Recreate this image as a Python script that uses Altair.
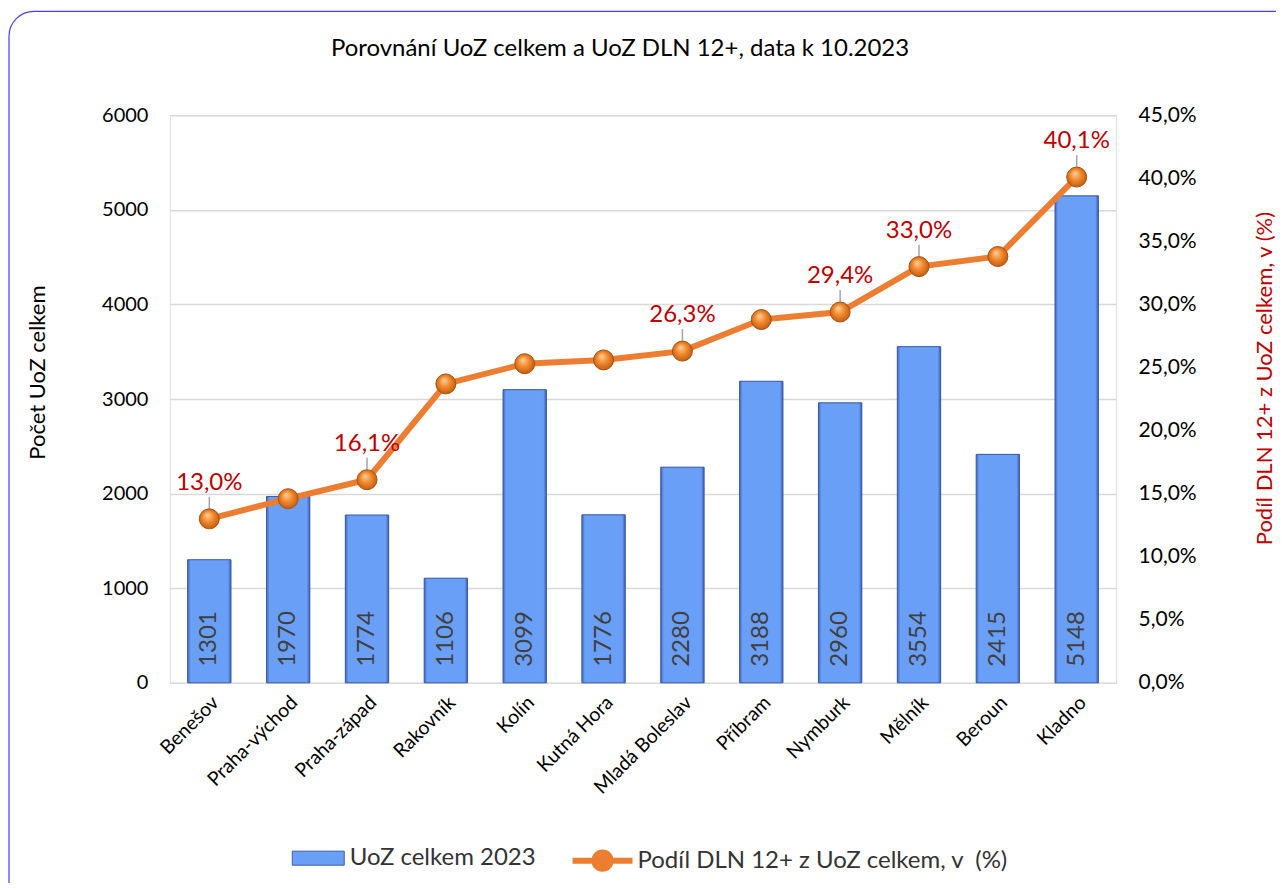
import altair as alt
import pandas as pd

districts = ["Benešov", "Praha-východ", "Praha-západ", "Rakovník", "Kolín", "Kutná Hora",
             "Mladá Boleslav", "Příbram", "Nymburk", "Mělník", "Beroun", "Kladno"]
uoz = [1301, 1970, 1774, 1106, 3099, 1776, 2280, 3188, 2960, 3554, 2415, 5148]
podil = [13.0, 14.6, 16.1, 23.7, 25.3, 25.6, 26.3, 28.8, 29.4, 33.0, 33.8, 40.1]
labeled = ["Benešov", "Praha-západ", "Mladá Boleslav", "Nymburk", "Mělník", "Kladno"]

s_bar = "UoZ celkem 2023"
s_line = "Podíl DLN 12+ z UoZ celkem, v\u00a0 (%)"

df = pd.DataFrame({
    "district": districts,
    "uoz": uoz,
    "pct": [p / 100 for p in podil],
    "pct_label": [f"{p:.1f}%".replace(".", ",") for p in podil],
    "show": [d in labeled for d in districts],
    "s_bar": s_bar,
    "s_line": s_line,
})

FONT = "Lato"

x_enc = alt.X("district:N", sort=districts, title=None,
              scale=alt.Scale(paddingInner=0.45, paddingOuter=0.225),
              axis=alt.Axis(labelAngle=-45, labelFontSize=19.5, labelFont=FONT, labelColor="black",
                            ticks=False, domain=False, labelPadding=10, grid=False))

left_axis = alt.Axis(orient="left", title="Počet UoZ celkem", values=[0, 1000, 2000, 3000, 4000, 5000, 6000],
                     format="d", labelFontSize=20, labelFont=FONT, labelColor="black", labelPadding=22,
                     ticks=False, domain=False, grid=True, gridColor="#D9D9D9", gridWidth=1.5,
                     titleFont=FONT, titleFontSize=22, titleFontWeight="normal", titleColor="black",
                     titleAngle=-90, titleX=-132, titleY=257, titleAlign="center", titleBaseline="middle")
left_scale = alt.Scale(domain=[0, 6000], nice=False)

right_axis = alt.Axis(orient="right", title="Podíl DLN 12+ z UoZ celkem, v (%)",
                      values=[0, 0.05, 0.1, 0.15, 0.2, 0.25, 0.3, 0.35, 0.4, 0.45],
                      labelExpr="replace(format(datum.value, '.1%'), '.', ',')",
                      labelFontSize=21, labelFont=FONT, labelColor="black", labelPadding=22,
                      ticks=False, domain=False, grid=False,
                      titleFont=FONT, titleFontSize=22, titleFontWeight="normal", titleColor="#C00000",
                      titleAngle=-90, titleX=148, titleY=263, titleAlign="center", titleBaseline="middle")
right_scale = alt.Scale(domain=[0, 0.45], nice=False)

base = alt.Chart(df)

bar_gradient = {
    "gradient": "linear", "x1": 0, "y1": 0, "x2": 1, "y2": 0,
    "stops": [
        {"offset": 0, "color": "#3F66C0"},
        {"offset": 0.07, "color": "#6A9FF7"},
        {"offset": 0.93, "color": "#6A9FF7"},
        {"offset": 1, "color": "#3A5CA8"},
    ],
}

bars_legend = base.mark_bar().encode(
    x=x_enc,
    y=alt.Y("uoz:Q", scale=left_scale, axis=left_axis),
    fill=alt.Fill("s_bar:N", scale=alt.Scale(domain=[s_bar], range=["#6A9FF7"]),
                  legend=alt.Legend(orient="none", legendX=122, legendY=717, title=None,
                                    symbolType="M-1,-0.27H1V0.27H-1Z", symbolSize=2704,
                                    symbolStrokeColor="#3B5BA5", symbolStrokeWidth=1,
                                    labelFont=FONT, labelFontSize=24, labelColor="#333333",
                                    labelOffset=5, labelLimit=600)),
)

bars = base.mark_bar(fill=bar_gradient, stroke="#3B5BA5", strokeWidth=1).encode(
    x=x_enc,
    y=alt.Y("uoz:Q", scale=left_scale, axis=left_axis),
)

bar_text = base.transform_calculate(zero="0").mark_text(
    angle=270, align="left", baseline="middle", fontSize=24, font=FONT, color="#404040", yOffset=-16
).encode(
    x=x_enc,
    y=alt.Y("zero:Q", scale=left_scale, axis=left_axis),
    text=alt.Text("uoz:Q", format="d"),
)

left = alt.layer(bars_legend, bars, bar_text)

line = base.mark_line(strokeWidth=6, strokeCap="round").encode(
    x=x_enc,
    y=alt.Y("pct:Q", scale=right_scale, axis=right_axis),
    stroke=alt.Stroke("s_line:N", scale=alt.Scale(domain=[s_line], range=["#ED7D31"]),
                      legend=alt.Legend(orient="none", legendX=400, legendY=713, title=None,
                                        symbolType="M-1,0H-0.27M0.27,0H1M0.27,0A0.27,0.27,0,1,1,-0.27,0A0.27,0.27,0,1,1,0.27,0Z",
                                        symbolSize=3600, symbolStrokeWidth=6,
                                        symbolFillColor="#ED7D31",
                                        labelFont=FONT, labelFontSize=24, labelColor="#333333",
                                        labelOffset=2, labelLimit=600)),
)

point_gradient = {
    "gradient": "radial", "x1": 0.4, "y1": 0.3, "r1": 0, "x2": 0.5, "y2": 0.5, "r2": 0.6,
    "stops": [
        {"offset": 0, "color": "#FFD2A0"},
        {"offset": 0.45, "color": "#F28A2E"},
        {"offset": 1, "color": "#B3520C"},
    ],
}

points = base.mark_point(filled=True, size=400, fill=point_gradient, stroke="#A9500F",
                         strokeWidth=1, opacity=1).encode(
    x=x_enc,
    y=alt.Y("pct:Q", scale=right_scale, axis=right_axis),
)

leaders = base.transform_filter("datum.show").mark_rule(
    color="#A6A6A6", strokeWidth=1.5, yOffset=-10, y2Offset=-22
).encode(
    x=x_enc,
    y=alt.Y("pct:Q", scale=right_scale, axis=right_axis),
    y2="pct:Q",
)

labels = base.transform_filter("datum.show").mark_text(
    dy=-36, fontSize=24, font=FONT, color="#C00000", baseline="middle"
).encode(
    x=x_enc,
    y=alt.Y("pct:Q", scale=right_scale, axis=right_axis),
    text="pct_label:N",
)

right = alt.layer(line, leaders, points, labels)

frame = alt.Chart(pd.DataFrame({"f": [0]})).mark_rect(
    fillOpacity=0, stroke="#3F3FFF", strokeWidth=1.2, cornerRadius=25
).encode(
    x=alt.value(-161), x2=alt.value(1140), y=alt.value(-104), y2=alt.value(820)
)

chart = alt.layer(frame, left, right).resolve_scale(y="independent").properties(
    width=947, height=568,
    padding={"left": 162, "top": 107, "right": 160, "bottom": 200},
    autosize=alt.AutoSizeParams(type="none"),
    title=alt.TitleParams("Porovnání UoZ celkem a UoZ DLN 12+, data k 10.2023",
                          font=FONT, fontSize=24, fontWeight="normal", color="black",
                          anchor="middle", frame="group", dx=-23, offset=-50),
).configure_view(stroke="#5050F0", strokeWidth=1.2).configure(background="white")

chart.save("out.html", embed_options={"renderer": "svg", "actions": False})
